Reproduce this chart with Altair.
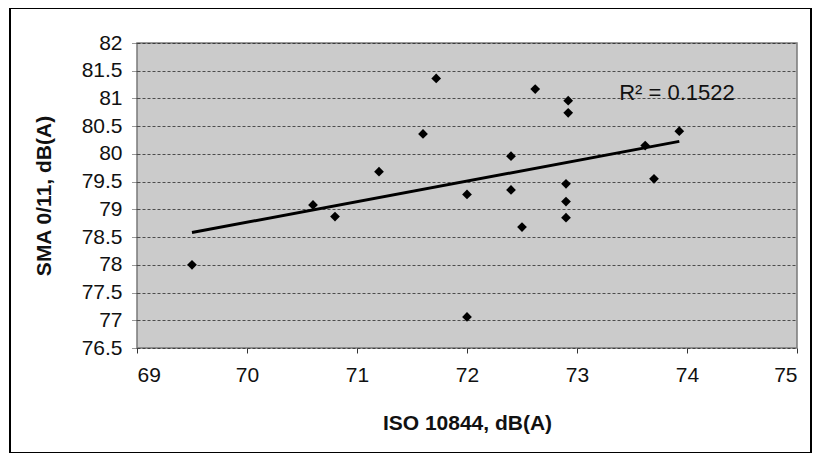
import altair as alt
import pandas as pd

# ISO 10844 vs SMA 0/11 measurements, dB(A)
iso = [69.5, 70.6, 70.8, 71.2, 71.6, 71.72, 72.0, 72.0, 72.4, 72.4,
       72.5, 72.62, 72.92, 72.92, 72.9, 72.9, 72.9, 73.62, 73.7, 73.93]
sma = [78.0, 79.08, 78.87, 79.68, 80.36, 81.36, 79.27, 77.06, 79.96, 79.35,
       78.68, 81.17, 80.96, 80.74, 79.46, 79.14, 78.85, 80.15, 79.55, 80.41]

x_ticks = [69, 70, 71, 72, 73, 74, 75]
y_ticks = [76.5, 77.0, 77.5, 78.0, 78.5, 79.0, 79.5, 80.0, 80.5, 81.0, 81.5, 82.0]
r2_label = ["R² = 0.1522"]

df = pd.DataFrame({"iso": iso, "sma": sma})

FONT = "Liberation Sans"
W, H = 660, 305

xs = alt.Scale(domain=[69, 75], nice=False, zero=False)
ys = alt.Scale(domain=[76.5, 82], nice=False, zero=False)

x_axis = alt.Axis(values=x_ticks, title="ISO 10844, dB(A)", grid=False,
                  format="d", labelOverlap=False,
                  tickSize=5, tickColor="#333333", labelPadding=11,
                  labelFontSize=21, labelColor="#111111", labelFont=FONT,
                  titleFontSize=21, titleFont=FONT, titleFontWeight="bold",
                  titleColor="#111111", titlePadding=27, domain=False)
y_axis = alt.Axis(values=y_ticks, title="SMA 0/11, dB(A)",
                  labelExpr="format(datum.value, '.3~g')",
                  labelOverlap=False, labelBound=False, tickCount=12,
                  grid=True, gridColor="#222222", gridDash=[3, 2],
                  gridWidth=1, gridOpacity=0.75,
                  tickSize=5, tickColor="#333333", tickDash=[1, 1],
                  labelPadding=10, labelFontSize=21, labelColor="#111111",
                  labelFont=FONT, titleFontSize=21, titleFont=FONT,
                  titleFontWeight="bold", titleColor="#111111",
                  titlePadding=27, domain=False)

base = alt.Chart(df)

frame = base.mark_rect(fill=None, stroke="black", strokeWidth=1.5).encode(
    x=alt.value(-127), x2=alt.value(674), y=alt.value(-35), y2=alt.value(410)
)

points = base.mark_point(shape="diamond", filled=True, size=95,
                         color="black", opacity=1).encode(
    x=alt.X("iso:Q", scale=xs, axis=x_axis),
    y=alt.Y("sma:Q", scale=ys, axis=y_axis),
)

trend = base.transform_regression("iso", "sma", method="linear").mark_line(
    color="black", strokeWidth=3
).encode(
    x=alt.X("iso:Q", scale=xs, axis=x_axis),
    y=alt.Y("sma:Q", scale=ys, axis=y_axis),
)

r2 = alt.Chart(pd.DataFrame({"t": r2_label})).mark_text(
    font=FONT, fontSize=22, color="#111111", align="center", baseline="middle"
).encode(text="t:N", x=alt.value(540), y=alt.value(50))

chart = alt.layer(frame, points, trend, r2).properties(
    width=W, height=H,
    autosize=alt.AutoSizeParams(type="none"),
    padding={"left": 129, "top": 35, "right": 15, "bottom": 105},
    background="white",
).configure_view(
    fill="#cbcbcb", stroke="#7a7a7a", strokeWidth=1.5
)

chart.save("out.html", embed_options={"renderer": "svg", "actions": False})
